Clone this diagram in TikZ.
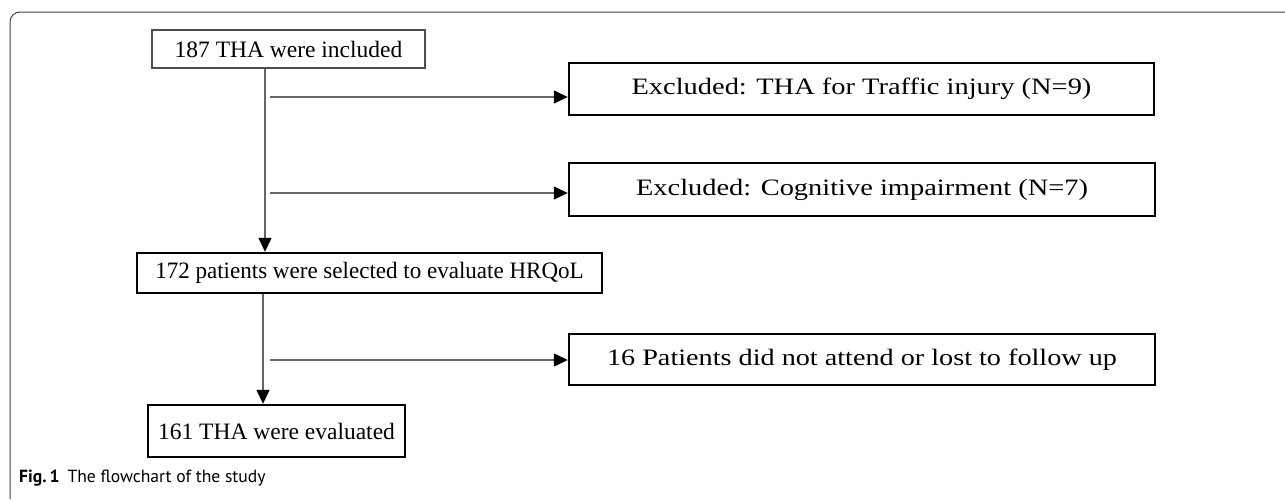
\documentclass[tikz,border=0pt]{standalone}
\usepackage{fontspec}
\usepackage{graphicx}
\setmainfont{Liberation Serif}
\newfontfamily\capfont{PT Sans}
\usetikzlibrary{arrows.meta}
\newcommand{\xs}[2]{\scalebox{#1}[1]{#2}}
\begin{document}
\begin{tikzpicture}[x=1pt,y=-1pt,
  box/.style={draw=black, line width=2.4pt, rectangle, inner sep=0pt, font=\fontsize{23.5}{27}\selectfont},
  thinbox/.style={draw=black!70, line width=1.3pt, rectangle, inner sep=0pt, font=\fontsize{23.5}{27}\selectfont},
  conn/.style={draw=black!60, line width=1.4pt},
  arr/.style={conn, -{Triangle[length=14pt,width=13pt,color=black]}},
  frame/.style={draw=black!75, line width=1pt, rounded corners=10pt}]
\useasboundingbox (0,0) rectangle (1285,499);
\draw[frame] (10,499) -- (10,12) -- (1286,12);
\node[thinbox, minimum width=273pt, minimum height=38pt] (b1) at (288.5,49) {187 THA were included};
\node[box, minimum width=585pt, minimum height=52pt] (b2) at (861.5,89) {\xs{1.21}{Excluded: THA for Traffic injury (N=9)}};
\node[box, minimum width=586pt, minimum height=53pt] (b3) at (862,189.5) {\xs{1.21}{Excluded: Cognitive impairment (N=7)}};
\node[box, minimum width=465pt, minimum height=40pt] (b4) at (369.5,273) {\xs{0.98}{172 patients were selected to evaluate HRQoL}};
\node[box, minimum width=586pt, minimum height=51pt] (b5) at (862,359.5) {\xs{1.2}{16 Patients did not attend or lost to follow up}};
\node[box, minimum width=257pt, minimum height=52pt] (b6) at (276.5,431) {161 THA were evaluated};
\node[anchor=base west, inner sep=0pt, font=\capfont\fontsize{17.6}{20}\selectfont] (cap) at (19,482) {\textbf{Fig.\,1}\hspace{8pt}The flowchart of the study};
\coordinate (v1) at (265,0);
\coordinate (v2) at (263,0);
\coordinate (h1) at (270,97);
\coordinate (h2) at (270,193);
\coordinate (h3) at (270,360);
\draw[arr] (b1.south -| v1) -- (b4.north -| v1);
\draw[arr] (h1) -- (b2.west |- h1);
\draw[arr] (h2) -- (b3.west |- h2);
\draw[arr] (b4.south -| v2) -- (b6.north -| v2);
\draw[arr] (h3) -- (b5.west |- h3);
\end{tikzpicture}
\end{document}
